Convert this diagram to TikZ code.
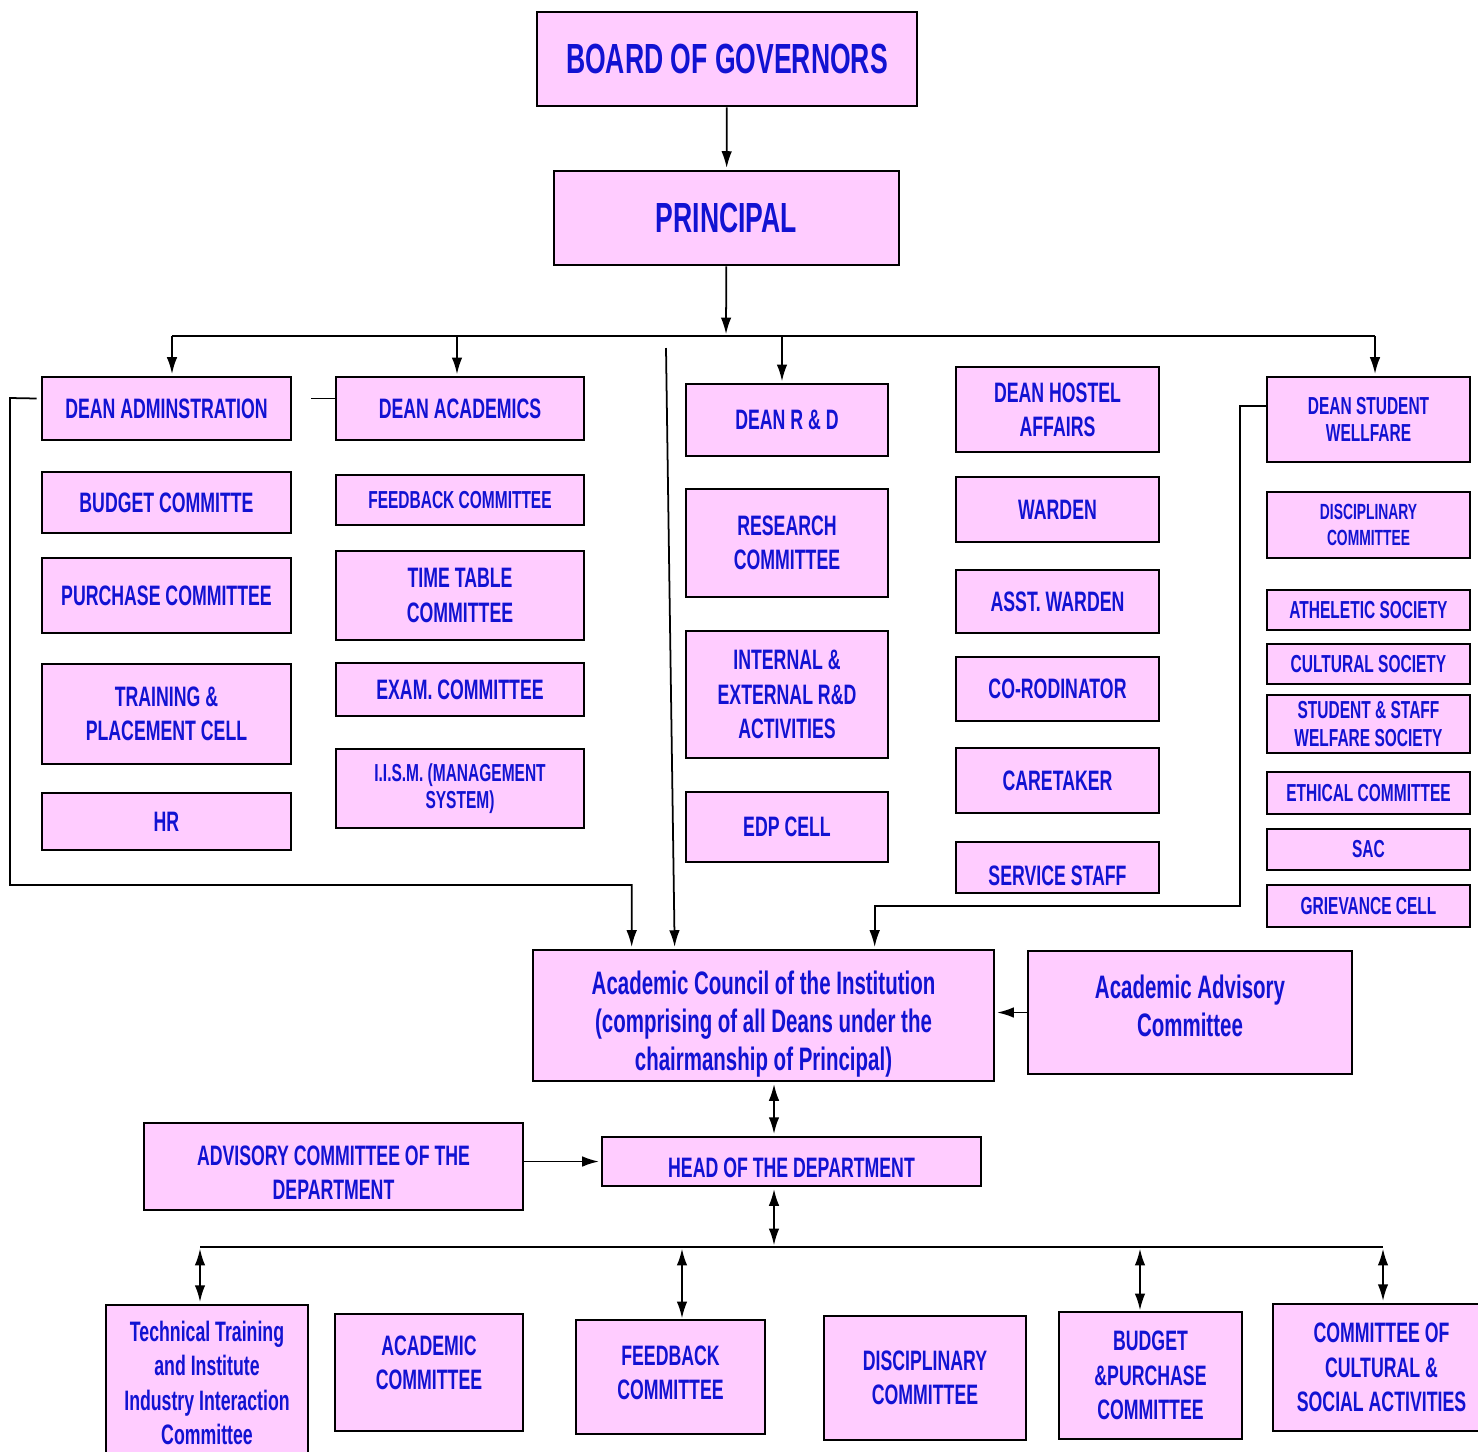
\documentclass[tikz,border=0pt]{standalone}
\usepackage{fontspec}
\usepackage{xcolor}
\usepackage{tikz}
\usetikzlibrary{calc}
\usetikzlibrary{positioning, arrows.meta}
\newfontfamily\orgfont{Liberation Sans}[FakeStretch=0.63]
\definecolor{BoxPink}{RGB}{255,204,255}
\definecolor{OrgBlue}{RGB}{18,18,210}
\newcommand{\upstrut}[1]{\rule{0pt}{#1}}
\newcommand{\downstrut}[1]{\rule[-#1]{0pt}{#1}}
\tikzset{
	orgbox/.style={draw=black, line width=1.5pt, fill=BoxPink, text=OrgBlue, align=center, inner sep=1pt},
	wh/.style 2 args={minimum width=#1*0.02cm, minimum height=#2*0.02cm},
	fbig/.style={font=\orgfont\bfseries\fontsize{24}{28}\selectfont},
	fmid/.style={font=\orgfont\bfseries\fontsize{16}{19.5}\selectfont},
	fsmall/.style={font=\orgfont\bfseries\fontsize{14}{15.5}\selectfont},
	ftiny/.style={font=\orgfont\bfseries\fontsize{12.5}{14.8}\selectfont},
	fcouncil/.style={font=\orgfont\bfseries\fontsize{18.5}{21.6}\selectfont},
	link/.style={line width=1pt},
	arr/.style={link, -{Latex[length=9.5pt, width=6pt]}, shorten >=1pt},
	darr/.style={link, {Latex[length=9.5pt, width=6pt]}-{Latex[length=9.5pt, width=6pt]}, shorten >=1pt, shorten <=1pt},
}

\begin{document}
\begin{tikzpicture}[x=0.02cm, y=-0.02cm]
\fill[white] (0,0) rectangle (1478,1451);
\useasboundingbox (0,0) rectangle (1478,1451);

\node[orgbox, fbig, wh={380}{94}] (bog) at (727,59) {BOARD OF GOVERNORS};
\node[orgbox, fbig, wh={345}{94}] (principal) at (726.5,218) {PRINCIPAL};

% deans and their cells
\node[orgbox, fmid, wh={249}{63}] (deanadm) at (166.5,408.5) {DEAN ADMINSTRATION};
\node[orgbox, fmid, wh={249}{61}] (budget) at (166.5,502.5) {BUDGET COMMITTE};
\node[orgbox, fmid, wh={249}{75}] (purchase) at (166.5,595.5) {PURCHASE COMMITTEE};
\node[orgbox, fmid, wh={249}{100}] (training) at (166.5,714) {TRAINING \&\\PLACEMENT CELL};
\node[orgbox, fmid, wh={249}{57}] (hr) at (166.5,821.5) {HR};

\node[orgbox, fmid, wh={248}{63}] (deanacad) at (460,408.5) {DEAN ACADEMICS};
\node[orgbox, fsmall, wh={248}{50}] (feedback) at (460,500) {FEEDBACK COMMITTEE};
\node[orgbox, fmid, wh={248}{89}] (timetable) at (460,595.5) {TIME TABLE\\COMMITTEE};
\node[orgbox, fmid, wh={248}{53}] (exam) at (460,689.5) {EXAM. COMMITTEE};
\node[orgbox, fsmall, wh={248}{79}] (iism) at (460,788.5) {I.I.S.M. (MANAGEMENT\\SYSTEM)};

\node[orgbox, fmid, wh={202}{72}] (deanrd) at (787,420) {DEAN R \& D};
\node[orgbox, fmid, wh={202}{108}] (research) at (787,543) {RESEARCH\\COMMITTEE};
\node[orgbox, fmid, wh={202}{127}] (intext) at (787,694.5) {INTERNAL \&\\EXTERNAL R\&D\\ACTIVITIES};
\node[orgbox, fmid, wh={202}{70}] (edp) at (787,827) {EDP CELL};

\node[orgbox, fmid, wh={203}{85}] (deanhostel) at (1057.5,409.5) {DEAN HOSTEL\\AFFAIRS};
\node[orgbox, fmid, wh={203}{65}] (warden) at (1057.5,509.5) {WARDEN};
\node[orgbox, fmid, wh={203}{63}] (asstwarden) at (1057.5,601.5) {ASST. WARDEN};
\node[orgbox, fmid, wh={203}{64}] (coord) at (1057.5,689) {CO-RODINATOR};
\node[orgbox, fmid, wh={203}{65}] (caretaker) at (1057.5,780.5) {CARETAKER};
\node[orgbox, fmid, wh={203}{51}] (service) at (1057.5,867.5) {\upstrut{20.5pt}SERVICE STAFF};

\node[orgbox, fsmall, wh={203}{85}] (deanstu) at (1368.5,419.5) {DEAN STUDENT\\WELLFARE};
\node[orgbox, ftiny, wh={203}{66}] (discip) at (1368.5,525) {DISCIPLINARY\\COMMITTEE};
\node[orgbox, fsmall, wh={203}{40}] (athletic) at (1368.5,610) {ATHELETIC SOCIETY};
\node[orgbox, fsmall, wh={203}{40}] (cultural) at (1368.5,664) {CULTURAL SOCIETY};
\node[orgbox, fsmall, wh={203}{58}] (welfare) at (1368.5,724) {STUDENT \& STAFF\\WELFARE SOCIETY};
\node[orgbox, fsmall, wh={203}{42}] (ethical) at (1368.5,793) {ETHICAL COMMITTEE};
\node[orgbox, fsmall, wh={203}{41}] (sac) at (1368.5,849.5) {SAC};
\node[orgbox, fsmall, wh={203}{42}] (grievance) at (1368.5,906) {GRIEVANCE CELL};

% council and department
\node[orgbox, fcouncil, wh={461}{131}] (council) at (763.5,1015.5) {\upstrut{23.5pt}Academic Council of the Institution\\(comprising of all Deans under the\\chairmanship of Principal)};
\node[orgbox, fcouncil, wh={324}{123}] (acadadv) at (1190,1012.5) {Academic Advisory\\Committee\downstrut{8pt}};
\node[orgbox, fmid, wh={379}{49}] (hod) at (791.5,1161.5) {\upstrut{18pt}HEAD OF THE DEPARTMENT};
\node[orgbox, fmid, wh={379}{87}] (deptadv) at (333.5,1166.5) {\upstrut{18pt}ADVISORY COMMITTEE OF THE\\DEPARTMENT};

\node[orgbox, fmid, wh={202}{156}] (tech) at (207,1383) {Technical Training\\and Institute\\Industry Interaction\\Committee};
\node[orgbox, fmid, wh={188}{117}] (acadcom) at (429,1372.5) {ACADEMIC\\COMMITTEE\downstrut{11pt}};
\node[orgbox, fmid, wh={189}{114}] (fbcom) at (670.5,1377) {FEEDBACK\\COMMITTEE\downstrut{5pt}};
\node[orgbox, fmid, wh={202}{124}] (discom) at (925,1378) {DISCIPLINARY\\COMMITTEE};
\node[orgbox, fmid, wh={183}{127}] (bpcom) at (1150.5,1375.5) {BUDGET\\\&PURCHASE\\COMMITTEE};
\node[orgbox, fmid, wh={217}{127}] (culcom) at (1381.5,1367.5) {COMMITTEE OF\\CULTURAL \&\\SOCIAL ACTIVITIES};

\coordinate (busl) at (172,336);
\coordinate (busr) at (1375,336);
\coordinate (busc) at (726,336);
\coordinate (rdtop) at (666,348);
\coordinate (hx) at (774,0);
\coordinate (bbl) at (200,1247);
\coordinate (bbr) at (1383,1247);

\draw[arr] (bog) -- (principal);
\draw[arr] (principal) -- (busc);
\draw[link] (busl) -- (busr);
\draw[arr] (busl) -- (busl |- deanadm.north);
\draw[arr] (457,336) -- (457,376);
\draw[arr] (782,336) -- (782,383);
\draw[arr] (busr) -- (busr |- deanstu.north);

\draw[arr] ($(deanadm.west)+(-4,-10)$) -- (10,398) -- (10,885) -| ($(council.north west)+(100,0)$);
\draw[link] ($(deanacad.west)+(0,-10)$) -- ++(-24,0);
\draw[arr] (rdtop) -- ($(council.north west)+(143,0)$);
\draw[arr] ($(deanstu.west)+(0,-13.5)$) -- (1240,406) -- (1240,906) -| ($(council.north west)+(343,0)$);

\draw[arr] (acadadv.west) -- (acadadv.west -| council.east);
\draw[darr] (council.south -| hx) -- (hod.north -| hx);
\draw[arr] (deptadv.east |- hod.west) -- (hod.west);
\draw[darr] (hod.south -| hx) -- (hx |- bbl);
\draw[link] (bbl) -- (bbr);
\draw[darr] (bbl) -- (bbl |- tech.north);
\draw[darr] (682,1247) -- (682,1320);
\draw[darr] (1140,1247) -- (1140,1312);
\draw[darr] (bbr) -- (bbr |- culcom.north);
\end{tikzpicture}
\end{document}
